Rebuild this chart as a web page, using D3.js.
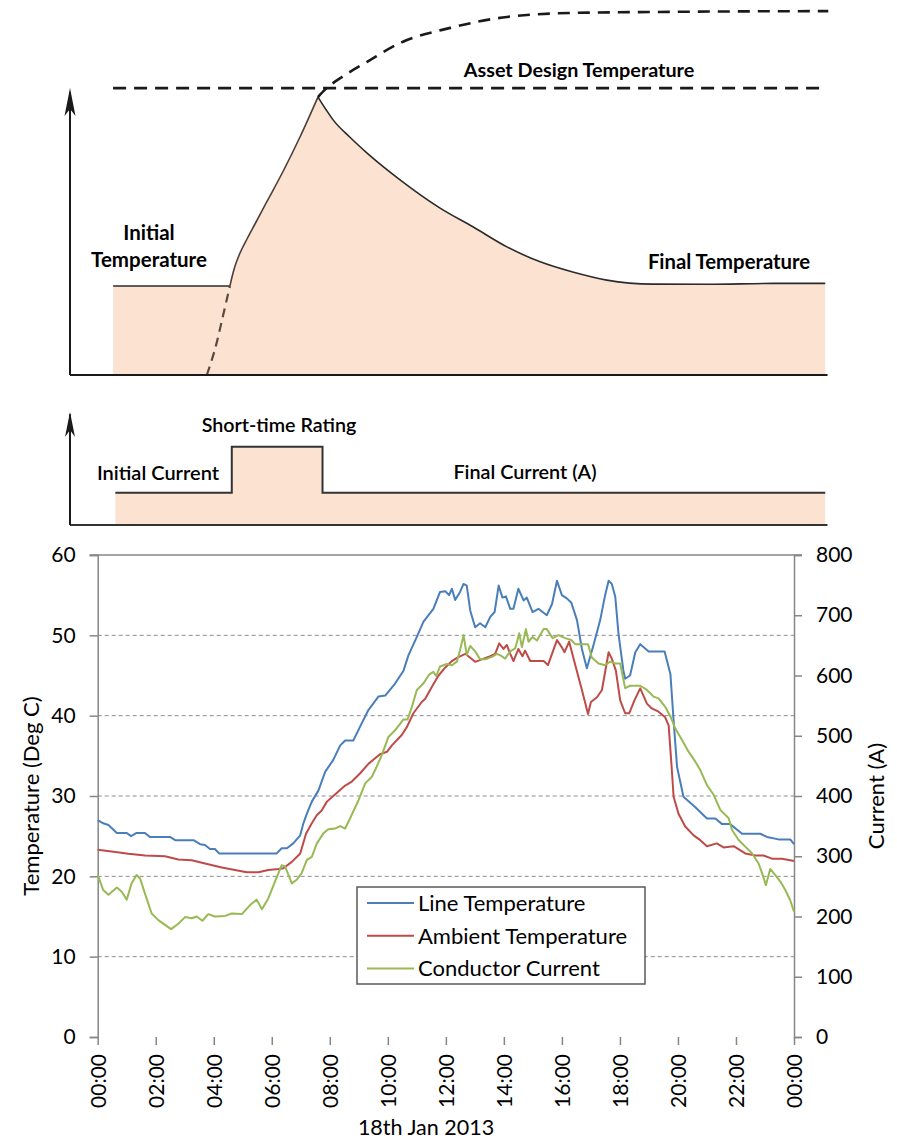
<!DOCTYPE html>
<html>
<head>
<meta charset="utf-8">
<script src="https://cdnjs.cloudflare.com/ajax/libs/d3/7.8.5/d3.min.js"></script>
<style>
  body { margin: 0; background: #fff; }
  svg { display: block; font-family: Lato, "Open Sans", sans-serif; }
</style>
</head>
<body>
<div id="chart"></div>
<script>
// ---------- Schematic data (arbitrary 0-100 units) ----------
const initialLevel = [[5.7, 24.4], [21.16, 24.4]];
// heating curve below the initial temperature (dashed)
const heatingLower = [[18.1, 0], [19.4, 8.8], [20.2, 15.9], [21.16, 24.4]];
// heating under the short-time rating, up to the design temperature
const heatingUpper = [
  [21.16, 24.4], [21.43, 26.85], [21.83, 29.86], [22.49, 33.42], [23.41, 37.26],
  [24.47, 41.37], [26.02, 47.4], [28.21, 55.89], [30.42, 65.21], [32.8, 76.16]
];
// cooling back down to the final temperature
const coolingCurve = [
  [32.8, 76.16], [33.9, 72.6], [34.8, 69.9], [37.0, 65.2], [39.3, 60.8], [43.7, 53.4],
  [48.9, 45.8], [53.3, 40.6], [57.8, 35.1], [62.2, 31.0], [66.5, 28.2], [71.0, 26.0],
  [77.1, 24.9], [84.3, 24.85], [93.0, 25.1], [99.9, 25.1]
];
// heating curve if the short-time rating were held (dashed)
const heatingProjection = [
  [32.8, 76.16], [33.7, 78.1], [36.4, 82.2], [39.3, 85.8], [43.7, 91.0], [50.3, 95.1],
  [57.8, 98.1], [66.5, 99.2], [79.8, 99.5], [100.3, 99.7]
];
const designTemperature = 78.6;
// conductor current steps
const currentProfile = [[6.0, 28.6], [21.4, 69.3], [33.4, 28.6], [99.9, 28.6]];

// ---------- Measured data, 18th Jan 2013 ----------
const hourTicks = [0, 2, 4, 6, 8, 10, 12, 14, 16, 18, 20, 22, 24];
const hourTickLabels = ["00:00", "02:00", "04:00", "06:00", "08:00", "10:00", "12:00",
  "14:00", "16:00", "18:00", "20:00", "22:00", "00:00"];
const tempTicks = [0, 10, 20, 30, 40, 50, 60];
const currentTicks = [0, 100, 200, 300, 400, 500, 600, 700, 800];

// [hour, deg C]
const lineTemperature = [
  [0, 27.0], [0.19, 26.6], [0.37, 26.4], [0.66, 25.4], [1.0, 25.4], [1.15, 25.0], [1.34, 25.4],
  [1.63, 25.4], [1.8, 24.9], [2.49, 24.9], [2.67, 24.5], [3.3, 24.5], [3.53, 24.0], [3.7, 23.9],
  [3.87, 23.4], [4.04, 23.4], [4.18, 22.85], [6.17, 22.85], [6.34, 23.5], [6.52, 23.5],
  [6.74, 24.1], [6.98, 25.1], [7.09, 26.6], [7.21, 27.8], [7.38, 29.3], [7.61, 30.7],
  [7.84, 33.0], [8.12, 34.5], [8.36, 36.3], [8.53, 36.9], [8.81, 36.9], [9.04, 38.6],
  [9.33, 40.7], [9.68, 42.4], [9.91, 42.5], [10.25, 44.0], [10.54, 45.6], [10.71, 47.5],
  [11.0, 49.8], [11.23, 51.7], [11.57, 53.3], [11.8, 55.4], [11.98, 55.5], [12.11, 55.0],
  [12.21, 55.8], [12.32, 54.4], [12.49, 55.4], [12.61, 56.4], [12.72, 56.2], [12.84, 53.1],
  [13.01, 51.0], [13.18, 51.5], [13.36, 51.0], [13.53, 52.3], [13.68, 52.9], [13.82, 56.2],
  [13.95, 54.7], [14.07, 54.85], [14.22, 53.3], [14.33, 53.3], [14.5, 55.8], [14.68, 54.35],
  [14.79, 54.7], [14.99, 52.9], [15.19, 53.3], [15.48, 52.5], [15.66, 53.9], [15.83, 56.8],
  [16.0, 55.0], [16.17, 54.6], [16.32, 54.1], [16.52, 51.9], [16.69, 48.3], [16.86, 45.9],
  [17.09, 48.8], [17.32, 51.9], [17.49, 55.0], [17.61, 56.8], [17.72, 56.4], [17.84, 54.8],
  [17.95, 50.2], [18.12, 45.6], [18.18, 44.6], [18.35, 45.0], [18.53, 47.9], [18.7, 48.9],
  [18.99, 48.0], [19.54, 48.0], [19.74, 45.2], [19.85, 39.4], [19.97, 33.6], [20.19, 29.9],
  [20.6, 28.6], [21.0, 27.2], [21.29, 27.2], [21.52, 26.5], [21.8, 26.5], [22.21, 25.3],
  [22.84, 25.3], [23.07, 24.9], [23.47, 24.6], [23.87, 24.6], [24.0, 24.0]
];

// [hour, deg C]
const ambientTemperature = [
  [0, 23.3], [0.48, 23.1], [1.06, 22.8], [1.63, 22.6], [2.32, 22.5], [2.78, 22.1], [3.24, 22.0],
  [3.7, 21.6], [4.28, 21.1], [4.73, 20.8], [5.14, 20.5], [5.54, 20.5], [5.88, 20.8], [6.23, 20.9],
  [6.4, 21.0], [6.69, 21.8], [6.98, 22.85], [7.18, 25.3], [7.38, 26.6], [7.55, 27.6], [7.72, 28.2],
  [7.9, 29.3], [8.18, 30.2], [8.53, 31.3], [8.76, 31.8], [9.04, 32.8], [9.33, 34.0], [9.73, 35.2],
  [9.97, 35.5], [10.14, 36.3], [10.48, 37.6], [10.66, 38.6], [10.88, 40.3], [11.17, 41.7],
  [11.29, 42.1], [11.52, 43.6], [11.75, 45.0], [11.98, 46.0], [12.21, 46.8], [12.38, 47.2],
  [12.67, 47.7], [13.01, 46.7], [13.24, 47.0], [13.53, 47.4], [13.7, 47.7], [13.84, 49.0],
  [13.99, 48.3], [14.1, 48.8], [14.22, 47.7], [14.33, 46.8], [14.5, 48.3], [14.64, 47.4],
  [14.73, 48.1], [14.91, 46.8], [15.37, 46.8], [15.52, 46.3], [15.83, 49.4], [16.0, 48.5],
  [16.09, 47.9], [16.25, 49.2], [16.46, 46.3], [16.69, 43.2], [16.9, 40.2], [17.0, 41.7],
  [17.21, 42.3], [17.38, 43.2], [17.61, 47.9], [17.72, 47.1], [17.86, 45.6], [18.01, 41.9],
  [18.18, 40.3], [18.32, 40.3], [18.5, 41.9], [18.7, 43.4], [18.93, 41.5], [19.1, 40.9],
  [19.33, 40.5], [19.56, 39.8], [19.68, 38.8], [19.79, 33.2], [19.85, 29.9], [20.02, 27.8],
  [20.25, 26.2], [20.54, 25.1], [20.77, 24.5], [21.0, 23.75], [21.34, 24.1], [21.57, 23.6],
  [21.92, 23.75], [22.32, 22.85], [22.67, 22.6], [22.95, 22.6], [23.24, 22.2], [23.59, 22.2],
  [24.0, 21.9]
];

// [hour, A]
const conductorCurrent = [
  [0, 269], [0.19, 244], [0.37, 236], [0.66, 248], [0.83, 241], [1.0, 228], [1.17, 255],
  [1.34, 269], [1.46, 263], [1.63, 238], [1.86, 205], [2.09, 194], [2.32, 186], [2.53, 179],
  [2.78, 188], [3.01, 199], [3.24, 197], [3.41, 200], [3.61, 193], [3.81, 204], [4.04, 200],
  [4.39, 201], [4.62, 205], [4.97, 204], [5.25, 219], [5.48, 228], [5.66, 212], [5.88, 230],
  [6.11, 258], [6.34, 285], [6.46, 283], [6.69, 255], [6.86, 261], [7.03, 272], [7.21, 294],
  [7.38, 299], [7.55, 321], [7.78, 338], [7.95, 345], [8.18, 346], [8.36, 350], [8.53, 346],
  [8.7, 363], [8.99, 393], [9.22, 421], [9.45, 432], [9.62, 449], [9.79, 468], [10.02, 498],
  [10.25, 509], [10.54, 527], [10.68, 527], [10.83, 548], [11.0, 576], [11.23, 587],
  [11.43, 602], [11.57, 606], [11.67, 599], [11.8, 615], [12.03, 619], [12.21, 617],
  [12.38, 623], [12.49, 642], [12.61, 667], [12.72, 634], [12.84, 649], [13.01, 640],
  [13.18, 627], [13.36, 627], [13.59, 631], [13.76, 636], [13.93, 632], [14.04, 628],
  [14.22, 640], [14.39, 645], [14.53, 670], [14.62, 647], [14.76, 677], [14.85, 656],
  [14.99, 664], [15.14, 658], [15.37, 677], [15.48, 677], [15.68, 662], [15.88, 667],
  [16.11, 662], [16.32, 659], [16.46, 652], [16.9, 652], [17.03, 630], [17.26, 620],
  [17.49, 617], [17.66, 623], [17.84, 620], [18.01, 620], [18.18, 579], [18.35, 583],
  [18.7, 583], [18.93, 576], [19.16, 565], [19.33, 562], [19.56, 548], [19.74, 532],
  [19.91, 512], [20.14, 493], [20.36, 474], [20.6, 457], [20.77, 443], [21.0, 418],
  [21.23, 402], [21.46, 377], [21.75, 363], [21.86, 344], [22.09, 327], [22.32, 316],
  [22.55, 305], [22.78, 288], [22.9, 272], [23.03, 252], [23.18, 279], [23.35, 269],
  [23.53, 258], [23.7, 244], [23.87, 227], [24.0, 208]
];

const seriesTitles = ["Line Temperature", "Ambient Temperature", "Conductor Current"];
const seriesColors = ["#4a7ebb", "#be4b48", "#98b954"];

// ---------- Layout ----------
const width = 897, height = 1139;
const fillColor = "#fce3d1";
const inkColor = "#1a1a1a";

let svg = d3.select("#chart")
  .append("svg")
    .attr("width", width)
    .attr("height", height);

// Small helper to draw an arrow head pointing up at (x, y)
function arrowHead(x, y, w, h) {
  return "M" + x + "," + y +
    " L" + (x - w / 2) + "," + (y + h) +
    " L" + x + "," + (y + h - 7) +
    " L" + (x + w / 2) + "," + (y + h) + " Z";
}

/* ================= Top schematic : temperature ================= */
let sx = d3.scaleLinear().domain([0, 100]).range([70, 826]);
let ty = d3.scaleLinear().domain([0, 100]).range([375, 10]);

let curveLine = d3.line()
  .x(d => sx(d[0]))
  .y(d => ty(d[1]))
  .curve(d3.curveMonotoneX);

let tempGroup = svg.append("g").attr("class", "schematic-temp");

// Filled area: initial level, then heating, then cooling (sharp peak kept)
let outline = curveLine(initialLevel) +
  curveLine(heatingUpper).replace(/^M/, "L") +
  curveLine(coolingCurve).replace(/^M/, "L");
let lastCool = coolingCurve[coolingCurve.length - 1];
tempGroup.append("path")
  .attr("d", "M" + sx(initialLevel[0][0]) + "," + ty(0) +
    outline.replace(/^M/, "L") +
    "L" + sx(lastCool[0]) + "," + ty(0) + "Z")
  .style("fill", fillColor);

[initialLevel, heatingUpper, coolingCurve].forEach((seg, i) => {
  tempGroup.append("path")
    .datum(seg)
    .attr("d", curveLine)
    .style("fill", "none")
    .style("stroke", i == 1 ? "#4d3f38" : "#2b2b2b")
    .style("stroke-width", "1.6px");
});

tempGroup.append("path")
  .datum(heatingLower)
  .attr("d", curveLine)
  .style("fill", "none")
  .style("stroke", "#5a4a42")
  .style("stroke-width", "2.2px")
  .style("stroke-dasharray", "9,6");

tempGroup.append("path")
  .datum(heatingProjection)
  .attr("d", curveLine)
  .style("fill", "none")
  .style("stroke", inkColor)
  .style("stroke-width", "2.6px")
  .style("stroke-dasharray", "12,8");

// Asset design temperature line
tempGroup.append("line")
  .attr("x1", sx(5.7)).attr("x2", sx(99.6))
  .attr("y1", ty(designTemperature)).attr("y2", ty(designTemperature))
  .style("stroke", inkColor)
  .style("stroke-width", "2.6px")
  .style("stroke-dasharray", "13,8");

// axes
tempGroup.append("line")
  .attr("x1", sx(0)).attr("x2", sx(100.2))
  .attr("y1", ty(0)).attr("y2", ty(0))
  .style("stroke", inkColor).style("stroke-width", "2px");
tempGroup.append("line")
  .attr("x1", sx(0)).attr("x2", sx(0))
  .attr("y1", ty(0)).attr("y2", ty(77.5))
  .style("stroke", inkColor).style("stroke-width", "2px");
tempGroup.append("path")
  .attr("d", arrowHead(sx(0), ty(78.6), 11, 28))
  .style("fill", inkColor);

// labels
tempGroup.append("text")
  .attr("x", 579).attr("y", 77)
  .style("text-anchor", "middle")
  .style("font-size", "19.8px").style("font-weight", "bold")
  .text("Asset Design Temperature");
tempGroup.append("text")
  .attr("x", 149).attr("y", 240)
  .style("text-anchor", "middle")
  .style("font-size", "20.5px").style("font-weight", "bold")
  .text("Initial");
tempGroup.append("text")
  .attr("x", 149).attr("y", 267)
  .style("text-anchor", "middle")
  .style("font-size", "20.5px").style("font-weight", "bold")
  .text("Temperature");
tempGroup.append("text")
  .attr("x", 729).attr("y", 269)
  .style("text-anchor", "middle")
  .style("font-size", "20.3px").style("font-weight", "bold")
  .text("Final Temperature");

/* ================= Middle schematic : current ================= */
let cy = d3.scaleLinear().domain([0, 100]).range([525, 412]);
let mid = svg.append("g").attr("class", "schematic-current");

mid.append("path")
  .datum(currentProfile)
  .attr("d", d3.area()
    .x(d => sx(d[0]))
    .y0(cy(0))
    .y1(d => cy(d[1]))
    .curve(d3.curveStepAfter))
  .style("fill", fillColor);

mid.append("path")
  .datum(currentProfile)
  .attr("d", d3.line()
    .x(d => sx(d[0]))
    .y(d => cy(d[1]))
    .curve(d3.curveStepAfter))
  .style("fill", "none")
  .style("stroke", "#333")
  .style("stroke-width", "2px");

mid.append("line")
  .attr("x1", sx(0)).attr("x2", sx(100.2))
  .attr("y1", cy(0)).attr("y2", cy(0))
  .style("stroke", "#333").style("stroke-width", "2px");
mid.append("line")
  .attr("x1", sx(0)).attr("x2", sx(0))
  .attr("y1", cy(0)).attr("y2", cy(98))
  .style("stroke", inkColor).style("stroke-width", "2px");
mid.append("path")
  .attr("d", arrowHead(sx(0), cy(100), 10, 25))
  .style("fill", inkColor);

mid.append("text")
  .attr("x", 279).attr("y", 432)
  .style("text-anchor", "middle")
  .style("font-size", "19.7px").style("font-weight", "600")
  .text("Short-time Rating");
mid.append("text")
  .attr("x", 158).attr("y", 480)
  .style("text-anchor", "middle")
  .style("font-size", "20px").style("font-weight", "600")
  .text("Initial Current");
mid.append("text")
  .attr("x", 525).attr("y", 479)
  .style("text-anchor", "middle")
  .style("font-size", "19.8px").style("font-weight", "600")
  .text("Final Current (A)");

/* ================= Measured data chart ================= */
let x = d3.scaleLinear().domain([0, 24]).range([97.7, 794]);
let yTemp = d3.scaleLinear().domain([0, 60]).range([1037, 555]);
let yCur = d3.scaleLinear().domain([0, 800]).range([1037, 555]);

let chart = svg.append("g").attr("class", "measured");

// dashed gridlines
chart.append("g")
  .selectAll("line")
  .data(tempTicks.filter(t => t > 0 && t < 60))
  .enter().append("line")
    .attr("x1", x(0)).attr("x2", x(24))
    .attr("y1", d => yTemp(d)).attr("y2", d => yTemp(d))
    .style("stroke", "#8c8c8c")
    .style("stroke-width", "1px")
    .style("stroke-dasharray", "4,3");

// plot top border
chart.append("line")
  .attr("x1", x(0) - 8).attr("x2", x(24) + 8)
  .attr("y1", yTemp(60)).attr("y2", yTemp(60))
  .style("stroke", "#868686").style("stroke-width", "1.5px");

// left axis
chart.append("g")
  .attr("class", "y axis")
  .attr("transform", "translate(" + x(0) + ",0)")
  .call(d3.axisLeft(yTemp).tickValues(tempTicks).tickSize(8).tickPadding(14));

// right axis
chart.append("g")
  .attr("class", "y2 axis")
  .attr("transform", "translate(" + x(24) + ",0)")
  .call(d3.axisRight(yCur).tickValues(currentTicks).tickSize(8).tickPadding(14));

// bottom axis (ticks only, no baseline)
let bottomAxis = chart.append("g")
  .attr("class", "x axis")
  .attr("transform", "translate(0," + yTemp(0) + ")")
  .call(d3.axisBottom(x)
    .tickValues(hourTicks)
    .tickSize(8)
    .tickFormat((d, i) => hourTickLabels[i]));
bottomAxis.select(".domain").remove();
bottomAxis.selectAll("text")
  .attr("transform", "rotate(-90)")
  .attr("x", -17)
  .attr("y", 0)
  .attr("dy", "0.35em")
  .style("text-anchor", "end");

chart.selectAll(".axis path.domain").style("stroke", "#868686").style("stroke-width", "1.5px");
chart.selectAll(".axis line").style("stroke", "#868686").style("stroke-width", "1.5px");
chart.selectAll(".axis text")
  .style("font-family", "Lato, sans-serif")
  .style("font-size", "21px")
  .style("fill", "#000");

// series
let series = [
  { data: lineTemperature, y: yTemp },
  { data: ambientTemperature, y: yTemp },
  { data: conductorCurrent, y: yCur }
];
series.forEach((s, i) => {
  chart.append("path")
    .datum(s.data)
    .attr("d", d3.line()
      .x(d => x(d[0]))
      .y(d => s.y(d[1])))
    .style("fill", "none")
    .style("stroke", seriesColors[i])
    .style("stroke-width", "2px")
    .style("stroke-linejoin", "round");
});

// axis titles
chart.append("text")
  .attr("transform", "translate(39," + ((yTemp(0) + yTemp(60)) / 2) + ") rotate(-90)")
  .style("text-anchor", "middle")
  .style("font-size", "22px")
  .text("Temperature (Deg C)");
chart.append("text")
  .attr("transform", "translate(884," + ((yTemp(0) + yTemp(60)) / 2) + ") rotate(-90)")
  .style("text-anchor", "middle")
  .style("font-size", "22px")
  .text("Current (A)");
chart.append("text")
  .attr("x", 426).attr("y", 1135)
  .style("text-anchor", "middle")
  .style("font-size", "21.5px")
  .text("18th Jan 2013");

// legend
let legend = chart.append("g")
  .attr("class", "legend")
  .attr("transform", "translate(357,887)");
legend.append("rect")
  .attr("width", 288).attr("height", 97)
  .style("fill", "#fff")
  .style("stroke", "#595959")
  .style("stroke-width", "1.5px");
let entry = legend.selectAll("g.entry")
  .data(seriesTitles)
  .enter().append("g")
    .attr("class", "entry")
    .attr("transform", (d, i) => "translate(0," + (16 + i * 32.8) + ")");
entry.append("line")
  .attr("x1", 10).attr("x2", 57)
  .style("stroke", (d, i) => seriesColors[i])
  .style("stroke-width", "2px");
entry.append("text")
  .attr("x", 61).attr("dy", "0.35em")
  .style("font-size", "22px")
  .text(d => d);
</script>
</body>
</html>
